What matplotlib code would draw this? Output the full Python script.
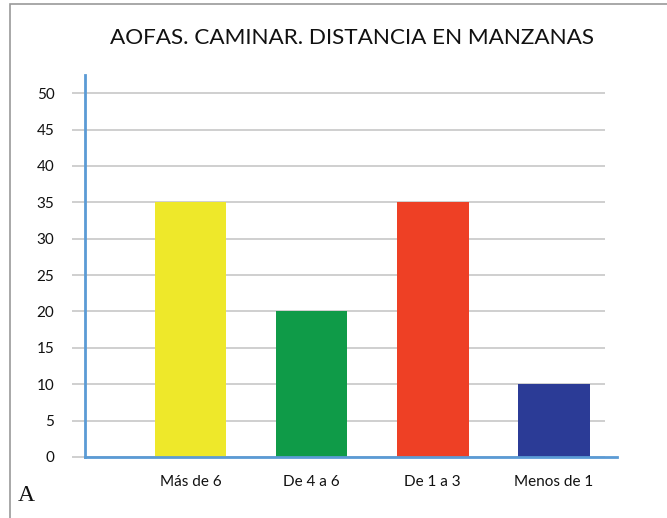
import numpy as np
import matplotlib
matplotlib.use("Agg")
import matplotlib.pyplot as plt
from matplotlib.patches import Rectangle

# datos del grafico
categorias = ["Más de 6", "De 4 a 6", "De 1 a 3", "Menos de 1"]
valores = [35, 20, 35, 10]
colores = ["#EEE82A", "#0F9B48", "#EE4025", "#2B3B96"]
marcas_y = [0, 5, 10, 15, 20, 25, 30, 35, 40, 45, 50]

plt.rcParams['font.family'] = ['Lato', 'DejaVu Sans']

fig = plt.figure(figsize=(6.67, 5.18), dpi=100)
ax = fig.add_axes([0.1274, 0.1178, 0.7976, 0.7374])

x = np.arange(len(categorias))
ax.bar(x, valores, width=0.59, color=colores, zorder=3)

ax.set_xlim(-0.87, 3.52)
ax.set_ylim(0, 52.5)

# lineas de la grilla (salen un poco hacia la izquierda)
ax.hlines(marcas_y, -0.98, 3.42, color="#CFCFCF", lw=1.4, zorder=1, clip_on=False)

ax.set_yticks(marcas_y)
ax.set_yticklabels([str(v) for v in marcas_y], fontsize=11, color="#111111")
ax.tick_params(axis='y', length=0, pad=22)
ax.set_xticks(x)
ax.set_xticklabels(categorias, fontsize=11, color="#111111")
ax.tick_params(axis='x', length=0, pad=13)

for s in ["top", "right"]:
    ax.spines[s].set_visible(False)
ax.spines["left"].set_color("#5B9BD5")
ax.spines["left"].set_linewidth(2)
ax.spines["bottom"].set_color("#5B9BD5")
ax.spines["bottom"].set_linewidth(2)
ax.spines["bottom"].set_zorder(4)

fig.text(0.528, 0.927, "AOFAS. CAMINAR. DISTANCIA EN MANZANAS",
         ha="center", va="center", fontsize=16.2, color="#111111")
fig.text(0.026, 0.043, "A", family="Liberation Serif", fontsize=17,
         ha="left", va="center", color="#111111")

# marco gris de la figura
fig.patches.append(Rectangle((10/667, -0.05), 1.1, 1 - 4/518 + 0.05,
                             transform=fig.transFigure, fill=False,
                             edgecolor="#9A9A9A", lw=1.2))

fig.savefig("out.png", dpi=100)
